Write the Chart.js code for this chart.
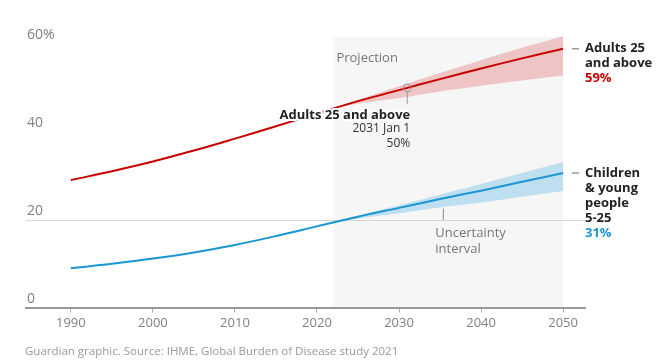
<!DOCTYPE html>
<html>
<head>
<meta charset="utf-8">
<script src="https://cdn.jsdelivr.net/npm/chart.js@4.4.1/dist/chart.umd.min.js"></script>
<style>
  body { margin: 0; background: #fff; }
  #wrap { width: 662px; height: 363px; }
</style>
</head>
<body>
<div id="wrap"><canvas id="chart"></canvas></div>
<script>
const years = [1990, 1995, 2000, 2005, 2010, 2015, 2020, 2025, 2030, 2035, 2040, 2045, 2050];
const adults = [29.1, 31.1, 33.3, 35.8, 38.5, 41.3, 44.2, 47.0, 49.5, 52.0, 54.4, 56.7, 58.9];
const children = [9.1, 10.1, 11.3, 12.7, 14.4, 16.4, 18.6, 20.8, 22.8, 24.8, 26.7, 28.7, 30.7];

// uncertainty interval, projection years only
const projYears = [2022, 2025, 2030, 2035, 2040, 2045, 2050];
const adultsHigh = [45.3, 47.3, 50.4, 53.4, 56.3, 59.1, 61.7];
const adultsLow = [45.3, 46.4, 47.7, 49.2, 50.5, 51.7, 52.8];
const childrenHigh = [19.5, 21.0, 23.4, 25.8, 28.2, 30.7, 33.2];
const childrenLow = [19.5, 20.4, 21.6, 22.9, 24.0, 25.3, 26.6];

const xTicks = [1990, 2000, 2010, 2020, 2030, 2040, 2050];
const yTicks = [0, 20, 40, 60];

const RED = '#c70000';
const BLUE = '#1a96d4';
const FONT = "'Open Sans', sans-serif";

const pts = (xs, ys) => xs.map((x, i) => ({ x: x, y: ys[i] }));

const annotations = {
  id: 'annotations',
  beforeDraw(chart) {
    const { ctx, chartArea, scales: { x } } = chart;
    ctx.save();
    ctx.fillStyle = '#f6f6f6';
    const x0 = x.getPixelForValue(2022), x1 = x.getPixelForValue(2050);
    ctx.fillRect(x0, chartArea.top + 2, x1 - x0, chartArea.bottom - chartArea.top - 2);
    ctx.restore();
  },
  afterDatasetsDraw(chart) {
    const { ctx, chartArea, scales: { x, y } } = chart;
    ctx.save();
    ctx.textBaseline = 'middle';

    // Projection
    ctx.fillStyle = '#777';
    ctx.font = '13px ' + FONT;
    ctx.textAlign = 'left';
    ctx.fillText('Projection', x.getPixelForValue(2022) + 3, 58);

    // point callout 2031
    const mx = x.getPixelForValue(2031), my = y.getPixelForValue(50);
    ctx.strokeStyle = '#999';
    ctx.lineWidth = 1;
    ctx.beginPath();
    ctx.arc(mx, my, 4, 0, Math.PI * 2);
    ctx.stroke();
    ctx.beginPath();
    ctx.moveTo(mx, my + 4);
    ctx.lineTo(mx, my + 16);
    ctx.stroke();

    ctx.textAlign = 'right';
    ctx.font = 'bold 13px ' + FONT;
    ctx.lineJoin = 'round';
    ctx.strokeStyle = '#fff';
    ctx.lineWidth = 4;
    ctx.strokeText('Adults 25 and above', mx + 3, my + 27);
    ctx.fillStyle = '#222';
    ctx.fillText('Adults 25 and above', mx + 3, my + 27);
    ctx.font = '12px ' + FONT;
    ctx.fillStyle = '#333';
    ctx.fillText('2031 Jan 1', mx + 3, my + 41);
    ctx.fillText('50%', mx + 3, my + 56);

    // uncertainty callout
    const ux = x.getPixelForValue(2035.4), uy = y.getPixelForValue(22.6);
    ctx.strokeStyle = '#888';
    ctx.lineWidth = 1;
    ctx.beginPath();
    ctx.moveTo(ux, uy);
    ctx.lineTo(ux, uy + 11);
    ctx.stroke();
    ctx.textAlign = 'left';
    ctx.font = '13px ' + FONT;
    ctx.fillStyle = '#777';
    ctx.fillText('Uncertainty', ux - 8, uy + 25);
    ctx.fillText('interval', ux - 8, uy + 41);

    // end labels
    const ends = [
      { v: adults[adults.length - 1], lines: ['Adults 25', 'and above'], pct: '59%', color: RED },
      { v: children[children.length - 1], lines: ['Children', '& young', 'people', '5-25'], pct: '31%', color: BLUE }
    ];
    const lx = chartArea.right;
    ends.forEach(e => {
      const ey = y.getPixelForValue(e.v);
      ctx.strokeStyle = '#999';
      ctx.lineWidth = 1.5;
      ctx.beginPath();
      ctx.moveTo(lx - 13, ey);
      ctx.lineTo(lx - 6, ey);
      ctx.stroke();
      ctx.font = 'bold 13px ' + FONT;
      ctx.fillStyle = '#222';
      e.lines.forEach((t, i) => ctx.fillText(t, lx, ey + i * 15));
      ctx.fillStyle = e.color;
      ctx.fillText(e.pct, lx, ey + e.lines.length * 15);
    });

    // source
    ctx.font = '11.5px ' + FONT;
    ctx.fillStyle = '#999';
    ctx.fillText('Guardian graphic. Source: IHME, Global Burden of Disease study 2021', 25, 352);
    ctx.restore();
  }
};

new Chart(document.getElementById('chart'), {
  type: 'line',
  data: {
    datasets: [
      { data: pts(years, adults), borderColor: RED, borderWidth: 2, pointRadius: 0, tension: 0.4, order: 0 },
      { data: pts(years, children), borderColor: BLUE, borderWidth: 2, pointRadius: 0, tension: 0.4, order: 0 },
      { data: pts(projYears, adultsHigh), borderWidth: 0, pointRadius: 0, tension: 0.4, fill: false, order: 1 },
      { data: pts(projYears, adultsLow), borderWidth: 0, pointRadius: 0, tension: 0.4, fill: '-1', backgroundColor: 'rgba(222, 80, 80, 0.3)', order: 1 },
      { data: pts(projYears, childrenHigh), borderWidth: 0, pointRadius: 0, tension: 0.4, fill: false, order: 1 },
      { data: pts(projYears, childrenLow), borderWidth: 0, pointRadius: 0, tension: 0.4, fill: '-1', backgroundColor: 'rgba(60, 170, 225, 0.3)', order: 1 }
    ]
  },
  options: {
    responsive: true,
    maintainAspectRatio: false,
    animation: false,
    layout: { padding: { left: 24, right: 77, top: 35, bottom: 29 } },
    plugins: { legend: { display: false }, tooltip: { enabled: false } },
    scales: {
      x: {
        type: 'linear',
        min: 1984.53,
        max: 2052.67,
        afterBuildTicks: s => { s.ticks = xTicks.map(v => ({ value: v })); },
        grid: { drawOnChartArea: false, drawTicks: true, tickLength: 4, color: '#aaa' },
        border: { display: true, color: '#999', width: 2 },
        ticks: { color: '#808080', font: { family: FONT, size: 13 }, padding: 3, maxRotation: 0, callback: v => String(v) }
      },
      y: {
        min: 0,
        max: 62,
        afterBuildTicks: s => { s.ticks = yTicks.map(v => ({ value: v })); },
        grid: { drawTicks: false, color: c => c.tick && c.tick.value === 20 ? '#d6d6d6' : 'rgba(0,0,0,0)' },
        border: { display: false },
        ticks: { mirror: true, padding: 1, labelOffset: -9, color: '#808080', font: { family: FONT, size: 14 }, callback: v => v === 60 ? '60%' : v }
      }
    }
  },
  plugins: [annotations]
});
</script>
</body>
</html>
